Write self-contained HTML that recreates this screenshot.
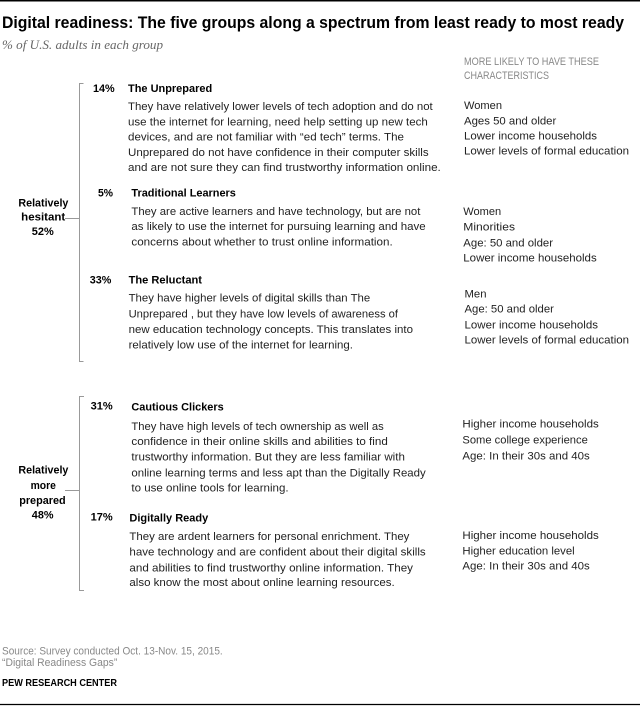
<!DOCTYPE html>
<html><head><meta charset="utf-8">
<style>
html,body{margin:0;padding:0;background:#fff;}
svg{display:block;}
text{font-family:"Liberation Sans",Arial,sans-serif;}
.t{font-size:11px;fill:#222;}
.b{font-size:11px;fill:#000;font-weight:bold;}
.g{font-size:11px;fill:#888;}
</style></head><body>
<svg width="640" height="706" viewBox="0 0 640 706" xmlns="http://www.w3.org/2000/svg">
<rect x="0" y="0" width="640" height="706" fill="#fff"/>
<line x1="0" y1="0.75" x2="640" y2="0.75" stroke="#000" stroke-width="1.5"/>
<line x1="0" y1="704.5" x2="640" y2="704.5" stroke="#000" stroke-width="1.2"/>

<text x="2" y="28" font-size="17" font-weight="bold" fill="#000" textLength="622" lengthAdjust="spacingAndGlyphs">Digital readiness: The five groups along a spectrum from least ready to most ready</text>
<text x="2" y="49" font-size="13" font-style="italic" fill="#666" style="font-family:'Liberation Serif',serif" textLength="161" lengthAdjust="spacingAndGlyphs">% of U.S. adults in each group</text>

<text x="464" y="65" class="g" font-size="10.5" textLength="135" lengthAdjust="spacingAndGlyphs">MORE LIKELY TO HAVE THESE</text>
<text x="464" y="79" class="g" font-size="10.5" textLength="85" lengthAdjust="spacingAndGlyphs">CHARACTERISTICS</text>

<!-- brackets -->
<g stroke="#999" stroke-width="1" fill="none">
<polyline points="83.5,83.5 79.5,83.5 79.5,361.5 83.5,361.5"/>
<line x1="65" y1="218.5" x2="79.5" y2="218.5"/>
<polyline points="84,396.5 79.5,396.5 79.5,590.5 84,590.5"/>
<line x1="65" y1="490.5" x2="79.5" y2="490.5"/>
</g>

<!-- group labels -->
<text x="18.4" y="206.7" class="b" textLength="50" lengthAdjust="spacingAndGlyphs">Relatively</text>
<text x="21.2" y="220.7" class="b" textLength="44" lengthAdjust="spacingAndGlyphs">hesitant</text>
<text x="31.8" y="235" class="b" textLength="22" lengthAdjust="spacingAndGlyphs">52%</text>

<text x="18.4" y="473.3" class="b" textLength="50" lengthAdjust="spacingAndGlyphs">Relatively</text>
<text x="30.6" y="489" class="b" textLength="25.3" lengthAdjust="spacingAndGlyphs">more</text>
<text x="19.2" y="504" class="b" textLength="46.5" lengthAdjust="spacingAndGlyphs">prepared</text>
<text x="31.8" y="518.3" class="b" textLength="21.7" lengthAdjust="spacingAndGlyphs">48%</text>

<!-- Item 1 -->
<text x="93" y="92" class="b" textLength="21.7" lengthAdjust="spacingAndGlyphs">14%</text>
<text x="128" y="92" class="b" textLength="84.2" lengthAdjust="spacingAndGlyphs">The Unprepared</text>
<text x="128" y="110" class="t" textLength="304.7" lengthAdjust="spacingAndGlyphs">They have relatively lower levels of tech adoption and do not</text>
<text x="128" y="125.3" class="t" textLength="299.8" lengthAdjust="spacingAndGlyphs">use the internet for learning, need help setting up new tech</text>
<text x="128" y="140.6" class="t" textLength="276" lengthAdjust="spacingAndGlyphs">devices, and are not familiar with “ed tech” terms. The</text>
<text x="128" y="155.9" class="t" textLength="300.6" lengthAdjust="spacingAndGlyphs">Unprepared  do not have confidence in their computer skills</text>
<text x="128" y="171.2" class="t" textLength="312.8" lengthAdjust="spacingAndGlyphs">and are not sure they can find trustworthy information online.</text>
<text x="464" y="109" class="t" textLength="38" lengthAdjust="spacingAndGlyphs">Women</text>
<text x="464" y="124.3" class="t" textLength="92.3" lengthAdjust="spacingAndGlyphs">Ages 50 and older</text>
<text x="464" y="139.6" class="t" textLength="133" lengthAdjust="spacingAndGlyphs">Lower income households</text>
<text x="464" y="154.6" class="t" textLength="165" lengthAdjust="spacingAndGlyphs">Lower levels of formal education</text>

<!-- Item 2 -->
<text x="98" y="196.7" class="b" textLength="15" lengthAdjust="spacingAndGlyphs">5%</text>
<text x="131.4" y="196.7" class="b" textLength="104.5" lengthAdjust="spacingAndGlyphs">Traditional Learners</text>
<text x="131.4" y="215" class="t" textLength="289" lengthAdjust="spacingAndGlyphs">They are active learners and have technology, but are not</text>
<text x="131.4" y="230" class="t" textLength="294.3" lengthAdjust="spacingAndGlyphs">as likely to use the internet for pursuing learning and have</text>
<text x="131.4" y="245.3" class="t" textLength="261.3" lengthAdjust="spacingAndGlyphs">concerns about whether to trust online information.</text>
<text x="463.3" y="215" class="t" textLength="37.9" lengthAdjust="spacingAndGlyphs">Women</text>
<text x="463.3" y="230.7" class="t" textLength="51.7" lengthAdjust="spacingAndGlyphs">Minorities</text>
<text x="463.3" y="246.5" class="t" textLength="89.7" lengthAdjust="spacingAndGlyphs">Age:  50 and older</text>
<text x="463.3" y="261.7" class="t" textLength="133.4" lengthAdjust="spacingAndGlyphs">Lower income households</text>

<!-- Item 3 -->
<text x="89.8" y="283.3" class="b" textLength="21.6" lengthAdjust="spacingAndGlyphs">33%</text>
<text x="128.6" y="283.3" class="b" textLength="73.4" lengthAdjust="spacingAndGlyphs">The Reluctant</text>
<text x="128.6" y="301.7" class="t" textLength="241.6" lengthAdjust="spacingAndGlyphs">They have higher levels of digital skills than The</text>
<text x="128.6" y="317.3" class="t" textLength="269.4" lengthAdjust="spacingAndGlyphs">Unprepared , but they have low levels of awareness of</text>
<text x="128.6" y="333" class="t" textLength="284.4" lengthAdjust="spacingAndGlyphs">new education technology concepts. This translates into</text>
<text x="128.6" y="348.3" class="t" textLength="224.4" lengthAdjust="spacingAndGlyphs">relatively low use of the internet for learning.</text>
<text x="464.5" y="297.3" class="t" textLength="22" lengthAdjust="spacingAndGlyphs">Men</text>
<text x="464.5" y="312.3" class="t" textLength="89.4" lengthAdjust="spacingAndGlyphs">Age:  50 and older</text>
<text x="464.5" y="328.3" class="t" textLength="133.5" lengthAdjust="spacingAndGlyphs">Lower income households</text>
<text x="464.5" y="343.3" class="t" textLength="164.5" lengthAdjust="spacingAndGlyphs">Lower levels of formal education</text>

<!-- Item 4 -->
<text x="90.6" y="409.3" class="b" textLength="22.1" lengthAdjust="spacingAndGlyphs">31%</text>
<text x="131.4" y="410.7" class="b" textLength="92.3" lengthAdjust="spacingAndGlyphs">Cautious Clickers</text>
<text x="131.4" y="430" class="t" textLength="252.3" lengthAdjust="spacingAndGlyphs">They have high levels of tech ownership as well as</text>
<text x="131.4" y="445" class="t" textLength="256.4" lengthAdjust="spacingAndGlyphs">confidence in their online skills and abilities to find</text>
<text x="131.4" y="460.7" class="t" textLength="273.5" lengthAdjust="spacingAndGlyphs">trustworthy information. But they are less familiar with</text>
<text x="131.4" y="476.3" class="t" textLength="294.3" lengthAdjust="spacingAndGlyphs">online learning terms and  less apt than the Digitally Ready</text>
<text x="131.4" y="491.7" class="t" textLength="157.2" lengthAdjust="spacingAndGlyphs">to use online tools for learning.</text>
<text x="462.4" y="427.7" class="t" textLength="136.4" lengthAdjust="spacingAndGlyphs">Higher income households</text>
<text x="462.4" y="443.3" class="t" textLength="125.4" lengthAdjust="spacingAndGlyphs">Some college experience</text>
<text x="462.4" y="459.3" class="t" textLength="127.4" lengthAdjust="spacingAndGlyphs">Age:  In their 30s and 40s</text>

<!-- Item 5 -->
<text x="90.6" y="520.7" class="b" textLength="22.1" lengthAdjust="spacingAndGlyphs">17%</text>
<text x="129.4" y="521.3" class="b" textLength="78.8" lengthAdjust="spacingAndGlyphs">Digitally Ready</text>
<text x="129.4" y="540" class="t" textLength="280" lengthAdjust="spacingAndGlyphs">They are ardent learners for personal enrichment. They</text>
<text x="129.4" y="555.7" class="t" textLength="296.3" lengthAdjust="spacingAndGlyphs">have technology and are  confident about their digital skills</text>
<text x="129.4" y="571.3" class="t" textLength="283.6" lengthAdjust="spacingAndGlyphs">and abilities to find trustworthy online information. They</text>
<text x="129.4" y="586" class="t" textLength="265.3" lengthAdjust="spacingAndGlyphs">also know the most about  online learning resources.</text>
<text x="462.4" y="539" class="t" textLength="136.4" lengthAdjust="spacingAndGlyphs">Higher income households</text>
<text x="462.4" y="554.3" class="t" textLength="112.3" lengthAdjust="spacingAndGlyphs">Higher education level</text>
<text x="462.4" y="569.3" class="t" textLength="127.4" lengthAdjust="spacingAndGlyphs">Age:  In their 30s and 40s</text>

<!-- footer -->
<text x="2" y="654.3" class="g" font-size="10.5" textLength="220.7" lengthAdjust="spacingAndGlyphs">Source: Survey conducted Oct. 13-Nov. 15, 2015.</text>
<text x="2" y="665.8" class="g" font-size="10.5" textLength="115.3" lengthAdjust="spacingAndGlyphs">“Digital Readiness Gaps”</text>
<text x="2" y="686" font-size="10" font-weight="bold" fill="#000" textLength="115" lengthAdjust="spacingAndGlyphs">PEW RESEARCH CENTER</text>
</svg>
</body></html>
